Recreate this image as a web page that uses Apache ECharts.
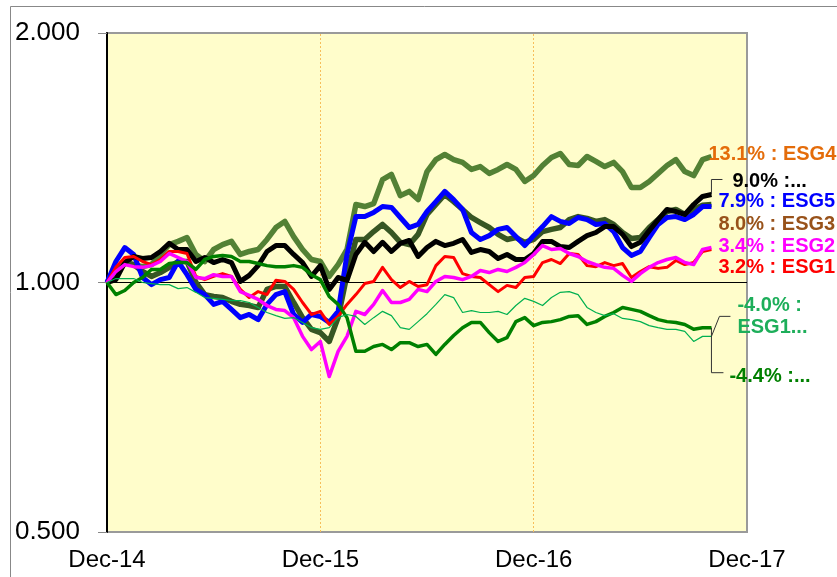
<!DOCTYPE html>
<html>
<head>
<meta charset="utf-8">
<script src="https://cdn.jsdelivr.net/npm/echarts@6/dist/echarts.min.js"></script>
<style>
  html, body { margin: 0; padding: 0; background: #fff; }
  #main { width: 837px; height: 577px; }
</style>
</head>
<body>
<div id="main"></div>
<script>
// months since Dec-14, half-month steps
var months = [
  0, 0.5, 1, 1.5, 2, 2.5, 3, 3.5, 4, 4.5,
  5, 5.5, 6, 6.5, 7, 7.5, 8, 8.5, 9, 9.5,
  10, 10.5, 11, 11.5, 12, 12.5, 13, 13.5, 14, 14.5,
  15, 15.5, 16, 16.5, 17, 17.5, 18, 18.5, 19, 19.5,
  20, 20.5, 21, 21.5, 22, 22.5, 23, 23.5, 24, 24.5,
  25, 25.5, 26, 26.5, 27, 27.5, 28, 28.5, 29, 29.5,
  30, 30.5, 31, 31.5, 32, 32.5, 33, 33.5, 34
]
var xLabels = ['Dec-14', 'Dec-15', 'Dec-16', 'Dec-17']

var esg4 = [
  1.000, 1.037, 1.057, 1.051, 1.045, 1.051, 1.081, 1.111, 1.121, 1.133,
  1.081, 1.060, 1.096, 1.111, 1.121, 1.081, 1.090, 1.096, 1.127, 1.165,
  1.185, 1.136, 1.096, 1.066, 1.060, 1.017, 1.051, 1.096, 1.242, 1.235,
  1.245, 1.331, 1.350, 1.273, 1.288, 1.259, 1.361, 1.407, 1.427, 1.407,
  1.396, 1.369, 1.380, 1.354, 1.369, 1.388, 1.369, 1.324, 1.346, 1.384,
  1.415, 1.431, 1.388, 1.384, 1.419, 1.400, 1.380, 1.396, 1.361, 1.302,
  1.302, 1.324, 1.354, 1.384, 1.407, 1.361, 1.346, 1.407, 1.419
]
var esg3 = [
  1.000, 1.022, 1.057, 1.051, 1.031, 1.017, 1.028, 1.043, 1.060, 1.060,
  1.000, 0.967, 0.962, 0.959, 0.949, 0.941, 0.938, 0.933, 0.981, 0.989,
  0.989, 0.946, 0.907, 0.878, 0.870, 0.849, 0.907, 1.022, 1.127, 1.127,
  1.152, 1.175, 1.149, 1.118, 1.111, 1.143, 1.208, 1.242, 1.277, 1.252,
  1.225, 1.198, 1.181, 1.165, 1.143, 1.127, 1.133, 1.118, 1.127, 1.152,
  1.159, 1.165, 1.191, 1.201, 1.195, 1.185, 1.191, 1.175, 1.149, 1.130,
  1.133, 1.165, 1.191, 1.218, 1.225, 1.208, 1.225, 1.239, 1.242
]
var esg5 = [
  1.000, 1.060, 1.102, 1.081, 1.014, 0.994, 1.008, 1.014, 1.060, 1.022,
  0.981, 0.967, 0.941, 0.949, 0.928, 0.907, 0.915, 0.902, 0.941, 0.967,
  0.975, 0.915, 0.895, 0.915, 0.910, 0.895, 0.923, 1.081, 1.201, 1.201,
  1.215, 1.235, 1.232, 1.198, 1.165, 1.175, 1.218, 1.252, 1.288, 1.259,
  1.225, 1.149, 1.127, 1.139, 1.159, 1.165, 1.136, 1.108, 1.139, 1.168,
  1.201, 1.185, 1.178, 1.198, 1.191, 1.175, 1.178, 1.152, 1.102, 1.078,
  1.090, 1.133, 1.175, 1.198, 1.201, 1.191, 1.208, 1.235, 1.235
]
var blackLine = [
  1.000, 1.008, 1.057, 1.075, 1.069, 1.072, 1.090, 1.115, 1.096, 1.096,
  1.060, 1.072, 1.057, 1.066, 1.057, 1.003, 1.020, 1.048, 1.090, 1.108,
  1.108, 1.081, 1.057, 1.017, 1.048, 0.981, 1.014, 1.006, 1.081, 1.118,
  1.090, 1.118, 1.090, 1.115, 1.124, 1.075, 1.102, 1.121, 1.108, 1.115,
  1.127, 1.087, 1.096, 1.090, 1.069, 1.081, 1.066, 1.066, 1.084, 1.121,
  1.121, 1.105, 1.102, 1.121, 1.139, 1.149, 1.168, 1.168, 1.143, 1.105,
  1.118, 1.155, 1.191, 1.225, 1.218, 1.208, 1.242, 1.270, 1.277
]
var esg2 = [
  1.000, 1.031, 1.051, 1.045, 1.043, 1.048, 1.060, 1.084, 1.072, 1.060,
  1.014, 1.011, 1.022, 1.017, 1.017, 0.975, 0.965, 0.954, 0.938, 0.928,
  0.925, 0.907, 0.861, 0.830, 0.849, 0.770, 0.826, 0.861, 0.923, 0.915,
  0.941, 0.978, 0.946, 0.946, 0.954, 0.981, 0.975, 1.003, 1.017, 1.014,
  1.008, 1.017, 1.034, 1.028, 1.037, 1.031, 1.043, 1.057, 1.081, 1.108,
  1.096, 1.099, 1.084, 1.075, 1.060, 1.051, 1.043, 1.040, 1.020, 1.003,
  1.025, 1.043, 1.057, 1.066, 1.072, 1.057, 1.051, 1.096, 1.102
]
var esg1 = [
  1.000, 1.043, 1.072, 1.075, 1.060, 1.051, 1.066, 1.090, 1.090, 1.084,
  1.017, 1.008, 1.017, 1.025, 1.017, 0.981, 0.959, 0.975, 0.967, 1.006,
  1.003, 0.981, 0.946, 0.915, 0.923, 0.890, 0.910, 0.941, 0.967, 0.997,
  1.003, 1.043, 1.008, 0.986, 1.003, 0.989, 0.994, 1.048, 1.075, 1.072,
  1.025, 1.017, 1.014, 0.994, 0.975, 0.992, 0.986, 1.014, 1.017, 1.057,
  1.066, 1.054, 1.084, 1.081, 1.048, 1.045, 1.057, 1.048, 1.054, 1.014,
  1.031, 1.045, 1.040, 1.043, 1.063, 1.051, 1.057, 1.090, 1.096
]
var esg1b = [
  1.000, 1.011, 1.011, 1.011, 1.000, 0.997, 0.994, 0.994, 0.983, 0.986,
  0.973, 0.959, 0.957, 0.954, 0.951, 0.951, 0.946, 0.933, 0.920, 0.912,
  0.905, 0.907, 0.895, 0.882, 0.878, 0.882, 0.907, 0.915, 0.910, 0.890,
  0.907, 0.923, 0.912, 0.882, 0.878, 0.897, 0.917, 0.941, 0.967, 0.959,
  0.920, 0.925, 0.920, 0.920, 0.923, 0.915, 0.938, 0.957, 0.949, 0.938,
  0.959, 0.973, 0.975, 0.967, 0.933, 0.920, 0.912, 0.917, 0.905, 0.902,
  0.897, 0.887, 0.882, 0.878, 0.878, 0.873, 0.849, 0.861, 0.861
]
var greenLine = [
  1.000, 0.967, 0.978, 1.000, 1.014, 1.037, 1.037, 1.054, 1.057, 1.057,
  1.037, 1.066, 1.075, 1.078, 1.075, 1.060, 1.060, 1.054, 1.048, 1.045,
  1.045, 1.048, 1.043, 1.022, 1.008, 0.962, 0.941, 0.907, 0.826, 0.826,
  0.837, 0.842, 0.830, 0.846, 0.846, 0.837, 0.842, 0.819, 0.842, 0.863,
  0.882, 0.895, 0.895, 0.870, 0.849, 0.858, 0.897, 0.907, 0.887, 0.895,
  0.897, 0.902, 0.910, 0.912, 0.890, 0.897, 0.910, 0.920, 0.933, 0.928,
  0.923, 0.912, 0.902, 0.897, 0.895, 0.890, 0.878, 0.882, 0.882
]

var fontFamily = '"Liberation Sans", Arial, sans-serif'

function makeLine (name, values, color, width, z, label) {
  return {
    name: name,
    type: 'line',
    data: months.map(function (m, i) { return [m, values[i]] }),
    showSymbol: false,
    z: z,
    silent: true,
    lineStyle: { color: color, width: width, join: 'round' },
    itemStyle: { color: color },
    emphasis: { disabled: true },
    endLabel: {
      show: true,
      formatter: label.text,
      color: label.color,
      offset: label.offset,
      distance: 0,
      fontSize: 20,
      lineHeight: 22,
      fontWeight: 'bold',
      fontFamily: fontFamily
    }
  }
}

var chart = echarts.init(document.getElementById('main'))

var series = [
  makeLine('ESG4', esg4, '#538135', 5.5, 3, { text: '13.1% : ESG4', color: '#E46C0A', offset: [-3, -2] }),
  makeLine('ESG3', esg3, '#375623', 5.5, 4, { text: '8.0% : ESG3', color: '#98521A', offset: [7, 20] }),
  makeLine('ESG5', esg5, '#0000FF', 5, 5, { text: '7.9% : ESG5', color: '#0000FF', offset: [7, -5] }),
  makeLine('black', blackLine, '#000000', 5, 6, { text: '9.0% :...', color: '#000000', offset: [21, -13] }),
  makeLine('ESG1', esg1, '#FF0000', 3, 7, { text: '3.2% : ESG1', color: '#FF0000', offset: [7, 18] }),
  makeLine('ESG2', esg2, '#FF00FF', 3.5, 8, { text: '3.4% : ESG2', color: '#FF00FF', offset: [7, -1] }),
  makeLine('green', greenLine, '#008000', 3.5, 9, { text: '-4.4% :...', color: '#008000', offset: [18, 49] }),
  makeLine('ESG1b', esg1b, '#00B050', 1.2, 10, { text: '-4.0% :\nESG1...', color: '#1DAE5A', offset: [26, -20] })
]

// guide lines (Dec-15, Dec-16, and 1.000) behind the series
series[0].markLine = {
  silent: true,
  symbol: 'none',
  z: 1,
  animation: false,
  label: { show: false },
  data: [
    { xAxis: 12, lineStyle: { color: '#F7BE5A', type: [2, 2], width: 1 } },
    { xAxis: 24, lineStyle: { color: '#F7BE5A', type: [2, 2], width: 1 } },
    { yAxis: 1, lineStyle: { color: '#000', type: 'solid', width: 1 } }
  ]
}

var option = {
  animation: false,
  backgroundColor: '#fff',
  grid: {
    left: 107,
    right: 90,
    top: 33,
    bottom: 45,
    show: true,
    backgroundColor: '#FFFDCB',
    borderColor: '#9a9a9a',
    borderWidth: 2
  },
  xAxis: {
    type: 'value',
    min: 0,
    max: 36,
    interval: 12,
    axisLine: { show: false },
    axisTick: { show: false },
    splitLine: { show: false },
    axisLabel: {
      formatter: function (v) { return xLabels[Math.round(v / 12)] },
      fontSize: 24,
      color: '#000',
      margin: 16,
      fontFamily: fontFamily
    }
  },
  yAxis: {
    type: 'log',
    logBase: 2,
    min: 0.5,
    max: 2,
    axisLine: { show: true, lineStyle: { color: '#000', width: 2 } },
    axisTick: { show: true, length: 9, lineStyle: { color: '#888', width: 1 } },
    splitLine: { show: false },
    axisLabel: {
      formatter: function (v) { return v.toFixed(3) },
      fontSize: 26,
      color: '#000',
      margin: 27,
      fontFamily: fontFamily
    }
  },
  series: series
}

chart.setOption(option)

// leader lines for the shifted end labels
function endPoint (values) {
  return chart.convertToPixel({ gridIndex: 0 }, [months[months.length - 1], values[values.length - 1]])
}
var pb = endPoint(blackLine)
var pt = endPoint(esg1b)
var pg = endPoint(greenLine)
var leader = { stroke: '#333', lineWidth: 1, fill: null }

chart.setOption({
  graphic: [
    { type: 'rect', silent: true, z: -1, shape: { x: 10.5, y: 6.5, width: 1000, height: 1000 }, style: { stroke: '#888', fill: null, lineWidth: 1 } },
    { type: 'polyline', silent: true, z: 20, shape: { points: [[pb[0], pb[1]], [pb[0], pb[1] - 15], [pb[0] + 11, pb[1] - 15]] }, style: leader },
    { type: 'polyline', silent: true, z: 20, shape: { points: [[pt[0], pt[1]], [pt[0] + 8, pt[1] - 20], [pt[0] + 19, pt[1] - 20]] }, style: leader },
    { type: 'polyline', silent: true, z: 20, shape: { points: [[pg[0], pg[1]], [pg[0], pg[1] + 45], [pg[0] + 12, pg[1] + 45]] }, style: leader }
  ]
})
</script>
</body>
</html>
